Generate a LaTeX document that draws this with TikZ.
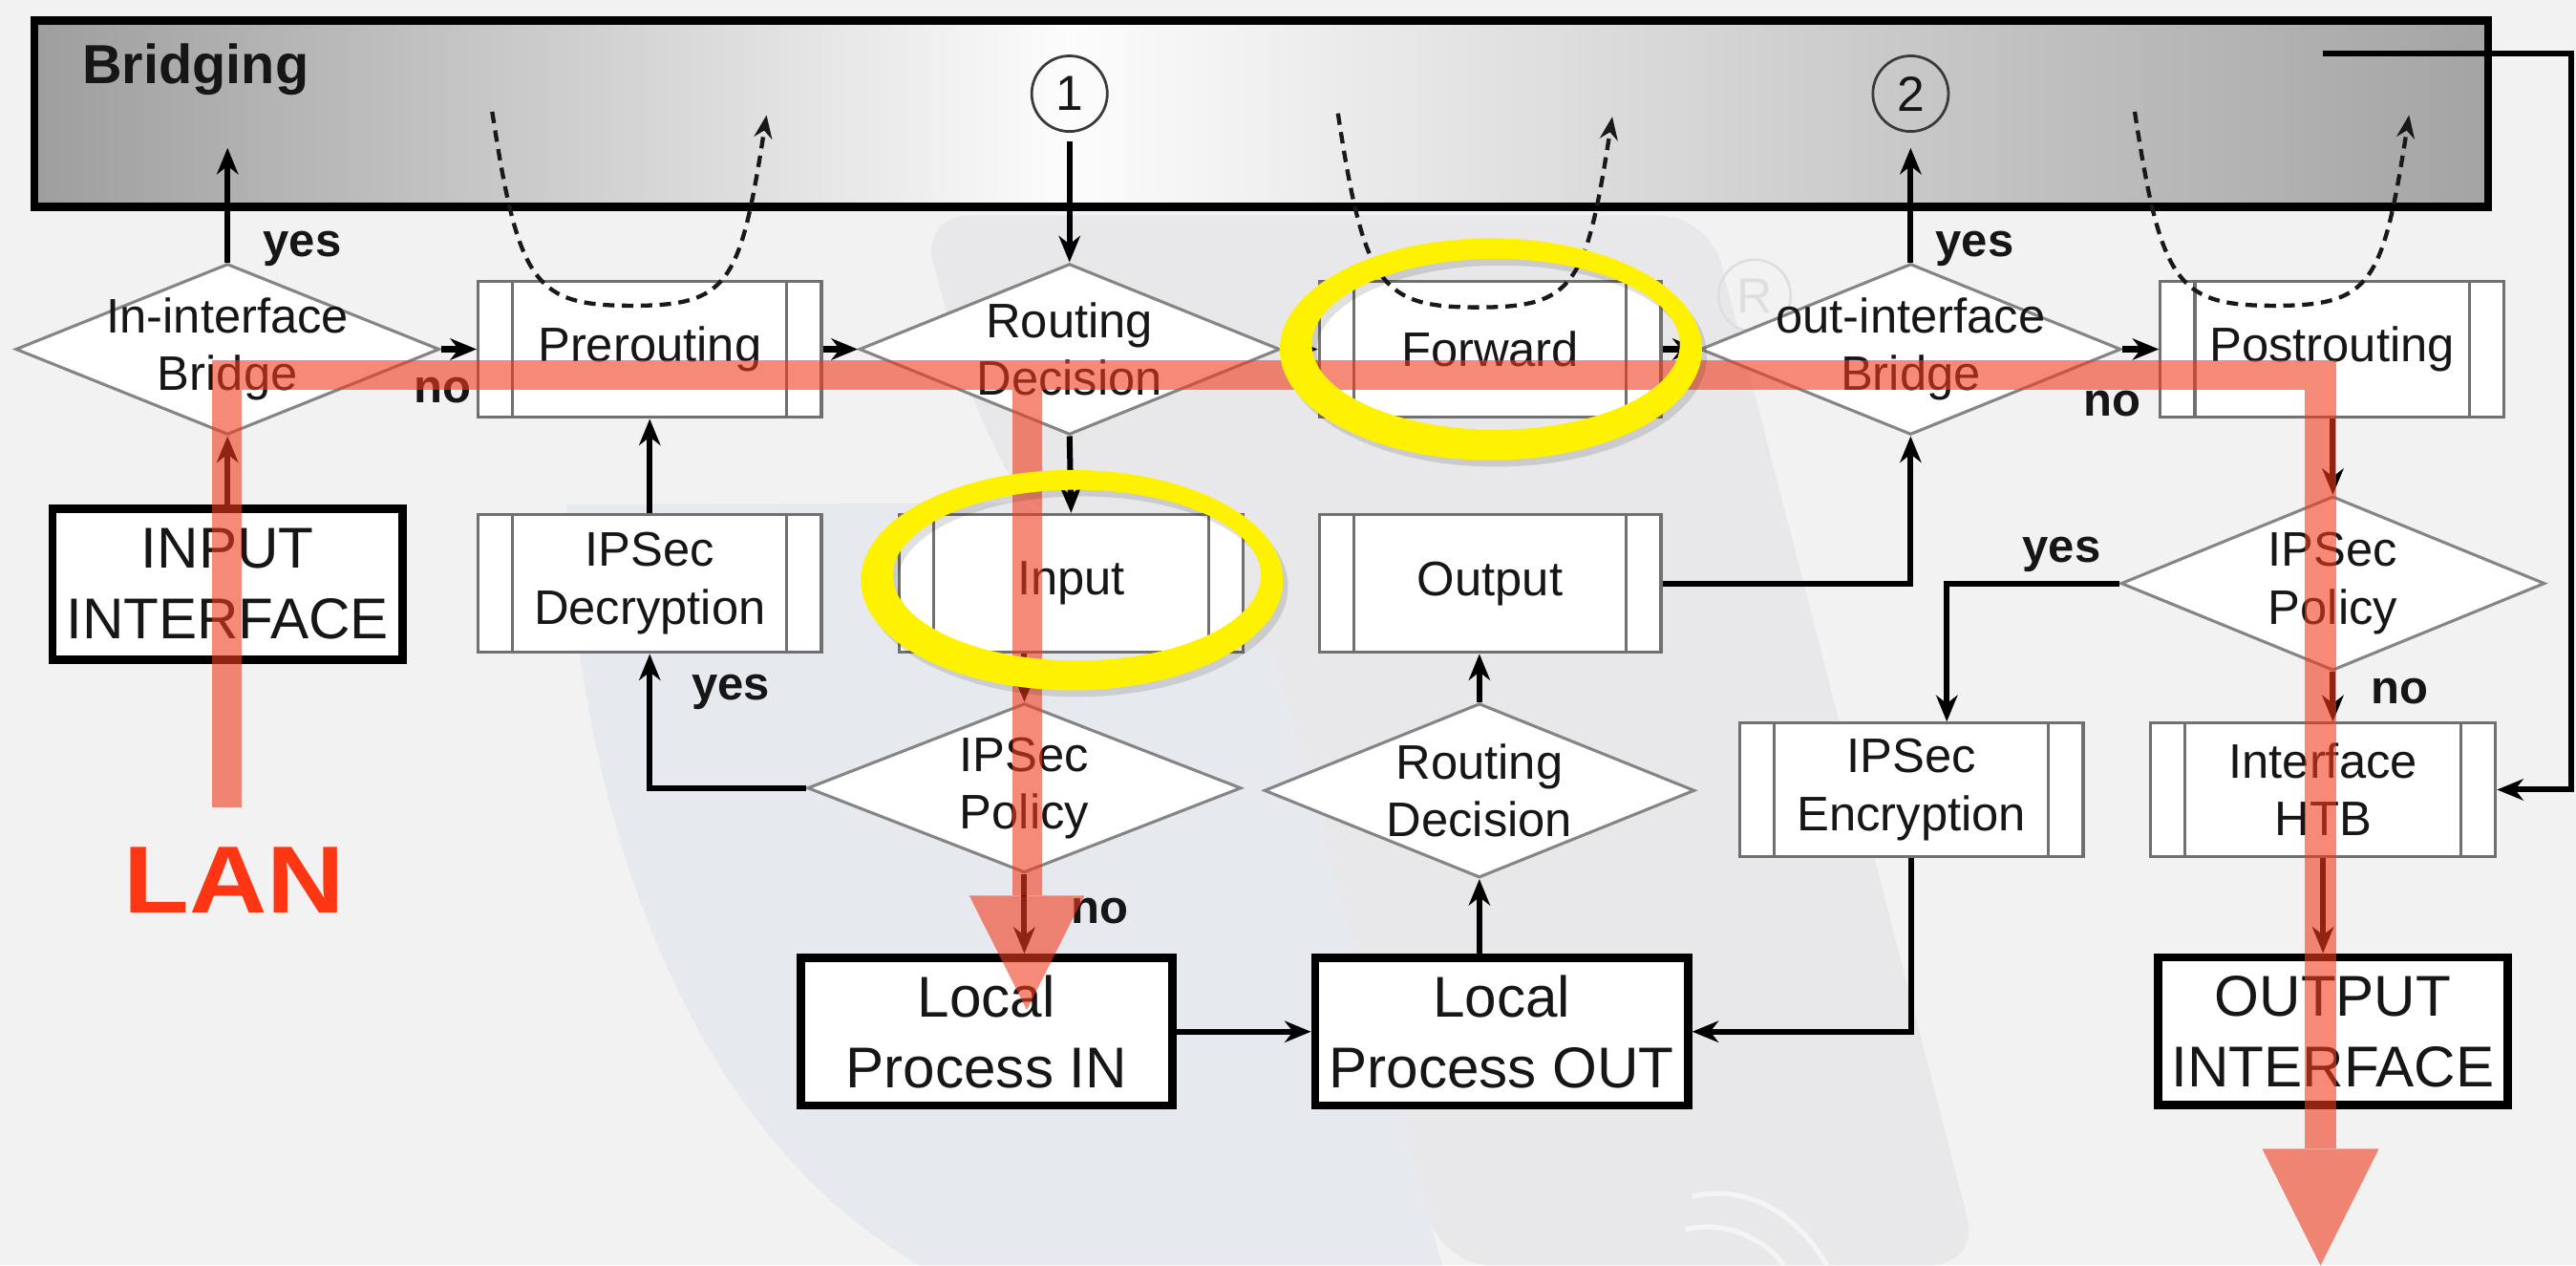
\documentclass[tikz,border=0pt]{standalone}
\usepackage{fontspec}
\usepackage{graphicx}
\setmainfont{Liberation Sans}
\usetikzlibrary{shapes.geometric,arrows.meta,calc}
\definecolor{bgc}{HTML}{F2F2F2}
\definecolor{wmg}{HTML}{E8E8EA}
\definecolor{wmb}{HTML}{E6EAEE}
\definecolor{wmc}{HTML}{DEDEE0}
\definecolor{brgl}{HTML}{9E9E9E}
\definecolor{brgm}{HTML}{FCFCFC}
\definecolor{brgr}{HTML}{A4A4A4}
\definecolor{txtc}{HTML}{161616}
\definecolor{boxc}{HTML}{707070}
\definecolor{diac}{HTML}{858585}
\definecolor{circc}{HTML}{3A3A3A}
\definecolor{redc}{HTML}{F03C1E}
\definecolor{lanc}{HTML}{FF3614}
\begin{document}
\begin{tikzpicture}[x=1pt,y=-1pt,
  txt/.style={font=\fontsize{29.5}{35}\selectfont, text=txtc, align=center, inner sep=0pt},
  bigtxt/.style={font=\fontsize{35}{43}\selectfont, text=txtc, align=center, inner sep=0pt},
  lbl/.style={font=\bfseries\fontsize{28.5}{30}\selectfont, text=txtc, inner sep=0pt, anchor=base west},
  subbox/.style={draw=boxc, line width=1.8pt, fill=white, minimum width=209pt, minimum height=83pt, txt,
    path picture={\draw[boxc, line width=1.8pt]
      ([xshift=21pt]path picture bounding box.north west) -- ([xshift=21pt]path picture bounding box.south west)
      ([xshift=-21pt]path picture bounding box.north east) -- ([xshift=-21pt]path picture bounding box.south east);}},
  thkbox/.style={draw=black, line width=5pt, fill=white, bigtxt},
  dia/.style={shape=diamond, draw=diac, line width=1.8pt, fill=white, inner sep=0pt},
  numc/.style={circle, draw=circc, line width=1.6pt, minimum size=46pt, inner sep=0pt, font=\fontsize{30}{30}\selectfont, text=txtc},
  conn/.style={line width=3.5pt, draw=black},
  arr/.style={conn, -{Stealth[length=16pt,width=13pt,inset=5pt]}},
  dsh/.style={line width=2.5pt, draw=black!90, dash pattern=on 7pt off 4.5pt, -{Stealth[length=14pt,width=11pt,inset=4.5pt]}},
  redp/.style={fill=redc, fill opacity=0.6},
]
\useasboundingbox (0,0) rectangle (1568,770);
\fill[bgc] (0,0) rectangle (1568,770);
% watermark
\fill[wmg, rounded corners=30pt] (560,131) -- (1040,131) -- (1205,770) -- (878,770) -- (775,400) -- (622,306) -- (590,240) -- cycle;
\fill[wmb] (345,307) -- (622,306) -- (775,400) -- (878,770) -- (560,770) .. controls (420,690) and (352,500) .. (345,307) -- cycle;
\node[circle, draw=wmc, line width=1.5pt, minimum size=44pt, inner sep=0pt, text=wmc, font=\fontsize{30}{30}\selectfont] (reg) at (1068,180) {R};
\draw[white, line width=3pt, opacity=0.55] (1030,728) .. controls (1065,720) and (1095,740) .. (1112,770);
\draw[white, line width=3pt, opacity=0.55] (1026,748) .. controls (1052,742) and (1075,755) .. (1086,770);

% bridging box
\shade[left color=brgl, right color=brgm] (21,12.5) rectangle (651,126);
\shade[left color=brgm, right color=brgr] (651,12.5) rectangle (1514.5,126);
\node[draw=black, line width=5pt, minimum width=1493.5pt, minimum height=113.5pt, inner sep=0pt] (brg) at (767.75,69.25) {};
\node[font=\bfseries\fontsize{33.5}{36}\selectfont, text=txtc, anchor=base west, inner sep=0pt] (brlab) at (50,51) {Bridging};
\node[numc] (c1) at (651,57) {1};
\node[numc] (c2) at (1163,57) {2};

% nodes
\node[dia, minimum width=258pt, minimum height=104pt] (ib) at (138.5,212.5) {};
\node[txt] (ibt) at (ib) {In-interface\\Bridge};
\node[subbox] (pre) at (395.5,212.5) {Prerouting};
\node[dia, minimum width=256pt, minimum height=104pt] (rd) at (651,212.5) {};
\node[txt] (rdt) at (rd) {Routing\\Decision};
\node[subbox, minimum width=208pt] (fwd) at (907,212.5) {Forward};
\node[dia, minimum width=256pt, minimum height=104pt] (ob) at (1163,212.5) {};
\node[txt] (obt) at (ob) {out-interface\\Bridge};
\node[subbox] (post) at (1419.5,212.5) {Postrouting};
\node[thkbox, minimum width=213pt, minimum height=92pt] (iif) at (138.5,355.5) {INPUT\\INTERFACE};
\node[subbox, minimum height=84pt] (dec) at (395.5,355) {IPSec\\Decryption};
\node[subbox, minimum height=84pt] (inp) at (652,355) {Input};
\node[subbox, minimum width=208pt, minimum height=84pt] (out) at (907,355) {Output};
\node[dia, minimum width=258pt, minimum height=106pt] (ipr) at (1420,355) {};
\node[txt] (iprt) at (ipr) {IPSec\\Policy};
\node[dia, minimum width=264pt, minimum height=103pt] (ipl) at (623.5,479.5) {};
\node[txt] (iplt) at (ipl) {IPSec\\Policy};
\node[dia, minimum width=262pt, minimum height=106pt] (rdl) at (900.5,481) {};
\node[txt] (rdlt) at (rdl) {Routing\\Decision};
\node[subbox, minimum height=81pt] (enc) at (1163.5,480.5) {IPSec\\Encryption};
\node[subbox, minimum width=210pt, minimum height=81pt] (htb) at (1414,480.5) {Interface\\HTB};
\node[thkbox, minimum width=226pt, minimum height=90pt] (lpi) at (600.5,627.75) {Local\\Process IN};
\node[thkbox, minimum width=227pt, minimum height=90pt] (lpo) at (914,627.75) {Local\\Process OUT};
\node[thkbox, minimum width=213pt, minimum height=90pt] (oif) at (1420,627.5) {OUTPUT\\INTERFACE};

% free-end coordinates
\coordinate (ibyes) at (138.5,90);
\coordinate (obyes) at (1163,90);
\coordinate (brout) at (1414,32.4);
\coordinate (brcor) at (1565,480.5);
\coordinate (preS) at (299.6,68);
\coordinate (preE) at (466.6,70);
\coordinate (fwdS) at (814.4,69);
\coordinate (fwdE) at (981.4,71);
\coordinate (postS) at (1299.4,68);
\coordinate (postE) at (1466.4,70);

% dashed bridge loops
\draw[dsh] (preS) .. controls (315.6,173) and (325.6,186) .. (384.6,186) .. controls (443.6,186) and (450.6,173) .. (preE);
\draw[dsh] (fwdS) .. controls (830.4,174) and (840.4,187) .. (899.4,187) .. controls (958.4,187) and (965.4,174) .. (fwdE);
\draw[dsh] (postS) .. controls (1315.4,173) and (1325.4,186) .. (1384.4,186) .. controls (1443.4,186) and (1450.4,173) .. (postE);

% connectors
\draw[arr] (ib.north) -- (ibyes);
\draw[arr] (ib.east) -- (pre.west);
\draw[arr] (pre.east) -- (rd.west);
\draw[arr] (rd.east) -- (fwd.west);
\draw[arr] (fwd.east) -- (ob.west);
\draw[arr] (ob.east) -- (post.west);
\draw[arr, shorten <=5pt] (c1.south) -- (rd.north);
\draw[arr] (ob.north) -- (obyes);
\draw[arr] (brout) -| (brcor) -- (htb.east);
\draw[arr] (rd.south) -- (inp.north);
\draw[arr] (inp.south -| ipl.north) -- (ipl.north);
\draw[arr] (ipl.south) -- (ipl.south |- lpi.north);
\draw[arr] (ipl.west) -| (dec.south);
\draw[arr] (dec.north) -- (pre.south);
\draw[arr] (iif.north) -- (ib.south);
\draw[arr] (lpi.east) -- (lpo.west);
\draw[arr] (lpo.north -| rdl.south) -- (rdl.south);
\draw[arr] (rdl.north) -- (rdl.north |- out.south);
\draw[arr] (out.east) -| (ob.south);
\draw[arr] (post.south -| ipr.north) -- (ipr.north);
\draw[arr] (ipr.south) -- (ipr.south |- htb.north);
\draw[arr] (ipr.west) -| ($(enc.north)+(21.5,0)$);
\draw[arr] (enc.south) |- (lpo.east);
\draw[arr] (htb.south) -- (htb.south |- oif.north);

% yes / no labels
\node[lbl] (y1) at (160,156) {yes};
\node[lbl] (n1) at (252,245) {no};
\node[lbl] (y2) at (1178,156) {yes};
\node[lbl] (n2) at (1268,253) {no};
\node[lbl] (y3) at (1231,342) {yes};
\node[lbl] (n3) at (1443,428) {no};
\node[lbl] (y4) at (421,426) {yes};
\node[lbl] (n4) at (652,562) {no};

% red packet path overlay
\fill[redp] (129,219) rectangle (1403,237);
\fill[redp] (129,237) rectangle (147,491);
\fill[redp] (616,237) rectangle (634,545);
\fill[redp] (590,545) -- (660,545) -- (625,614.5) -- cycle;
\fill[redp] (1403,219) rectangle (1422,699);
\fill[redp] (1377,699) -- (1448,699) -- (1412.5,770) -- cycle;

% yellow highlight rings
\fill[black, opacity=0.12, even odd rule] (910.5,216.5) ellipse [x radius=128.5pt, y radius=67.5pt] (913.5,213.5) ellipse [x radius=112pt, y radius=52pt];
\fill[yellow, even odd rule] (907.5,212.5) ellipse [x radius=128.5pt, y radius=67.5pt] (910.5,209.5) ellipse [x radius=112pt, y radius=52pt];
\fill[black, opacity=0.12, even odd rule] (655.5,357) ellipse [x radius=128.5pt, y radius=67pt] (658.5,354) ellipse [x radius=112pt, y radius=52pt];
\fill[yellow, even odd rule] (652.5,353) ellipse [x radius=128.5pt, y radius=67pt] (655.5,350) ellipse [x radius=112pt, y radius=52pt];

% LAN label
\node[anchor=base west, inner sep=0pt, text=lanc, font=\bfseries\fontsize{58}{60}\selectfont] (lan) at (75,555.7) {\scalebox{1.13}[1]{LAN}};
\end{tikzpicture}
\end{document}
